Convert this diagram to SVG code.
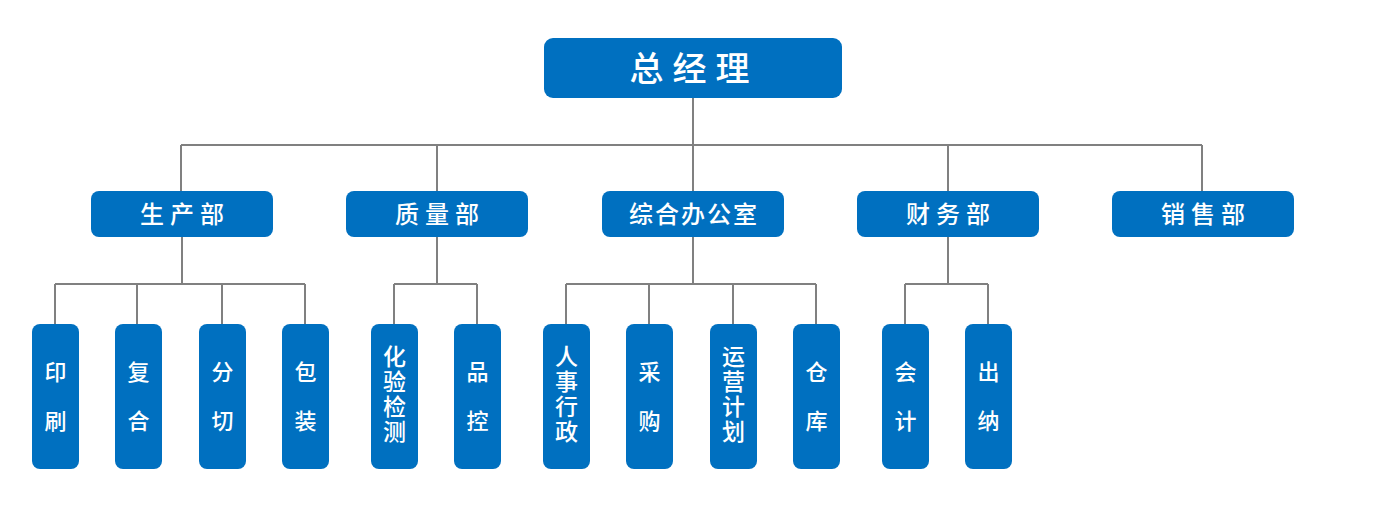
<svg xmlns="http://www.w3.org/2000/svg" width="1386" height="510" viewBox="0 0 1386 510">
<style>
.b{fill:#0070C0}
.t{fill:#fff;font-family:"Noto Sans CJK SC","Noto Sans",sans-serif;font-weight:500;text-anchor:middle;dominant-baseline:central}
.c{stroke:#808080;stroke-width:2;fill:none}
.s{font-size:22px}
.v{font-size:23px;writing-mode:tb;letter-spacing:2px}
</style>
<g id="connectors">
<path class="c" d="M693 98V145M181 145H1202M181 145V191M437 145V191M693 145V191M948 145V191M1202 145V191"/>
<path class="c" d="M182 237V284M55 284H305M55 284V324M137 284V324M222 284V324M305 284V324"/>
<path class="c" d="M437 237V284M394 284H477M394 284V324M477 284V324"/>
<path class="c" d="M693 237V284M566 284H816M566 284V324M649 284V324M733 284V324M816 284V324"/>
<path class="c" d="M948 237V284M905 284H988M905 284V324M988 284V324"/>
</g>
<g id="gm"><rect class="b" x="544" y="38" width="298" height="60" rx="9"/><text class="t" x="694" y="66" font-size="34" letter-spacing="9">总经理</text></g>
<g id="d1"><rect class="b" x="91" y="191" width="182" height="46" rx="8"/><text class="t" x="185" y="212" font-size="24" letter-spacing="6">生产部</text></g>
<g id="d2"><rect class="b" x="346" y="191" width="182" height="46" rx="8"/><text class="t" x="440" y="212" font-size="24" letter-spacing="6">质量部</text></g>
<g id="d3"><rect class="b" x="602" y="191" width="182" height="46" rx="8"/><text class="t" x="694" y="212" font-size="24" letter-spacing="2">综合办公室</text></g>
<g id="d4"><rect class="b" x="857" y="191" width="182" height="46" rx="8"/><text class="t" x="951" y="212" font-size="24" letter-spacing="6">财务部</text></g>
<g id="d5"><rect class="b" x="1112" y="191" width="182" height="46" rx="8"/><text class="t" x="1206" y="212" font-size="24" letter-spacing="6">销售部</text></g>

<g id="s1"><rect class="b" x="32" y="324" width="47" height="145" rx="8"/><text class="t s" x="55.5" y="370">印</text><text class="t s" x="55.5" y="419">刷</text></g>
<g id="s2"><rect class="b" x="115" y="324" width="47" height="145" rx="8"/><text class="t s" x="138.5" y="370">复</text><text class="t s" x="138.5" y="419">合</text></g>
<g id="s3"><rect class="b" x="199" y="324" width="47" height="145" rx="8"/><text class="t s" x="222.5" y="370">分</text><text class="t s" x="222.5" y="419">切</text></g>
<g id="s4"><rect class="b" x="282" y="324" width="47" height="145" rx="8"/><text class="t s" x="305.5" y="370">包</text><text class="t s" x="305.5" y="419">装</text></g>

<g id="s5"><rect class="b" x="371" y="324" width="47" height="145" rx="8"/><text class="t v" x="394.5" y="395">化验检测</text></g>
<g id="s6"><rect class="b" x="454" y="324" width="47" height="145" rx="8"/><text class="t s" x="477.5" y="370">品</text><text class="t s" x="477.5" y="419">控</text></g>

<g id="s7"><rect class="b" x="543" y="324" width="47" height="145" rx="8"/><text class="t v" x="566.5" y="395">人事行政</text></g>
<g id="s8"><rect class="b" x="626" y="324" width="47" height="145" rx="8"/><text class="t s" x="649.5" y="370">采</text><text class="t s" x="649.5" y="419">购</text></g>
<g id="s9"><rect class="b" x="710" y="324" width="47" height="145" rx="8"/><text class="t v" x="733.5" y="395">运营计划</text></g>
<g id="s10"><rect class="b" x="793" y="324" width="47" height="145" rx="8"/><text class="t s" x="816.5" y="370">仓</text><text class="t s" x="816.5" y="419">库</text></g>

<g id="s11"><rect class="b" x="882" y="324" width="47" height="145" rx="8"/><text class="t s" x="905.5" y="370">会</text><text class="t s" x="905.5" y="419">计</text></g>
<g id="s12"><rect class="b" x="965" y="324" width="47" height="145" rx="8"/><text class="t s" x="988.5" y="370">出</text><text class="t s" x="988.5" y="419">纳</text></g>
</svg>
